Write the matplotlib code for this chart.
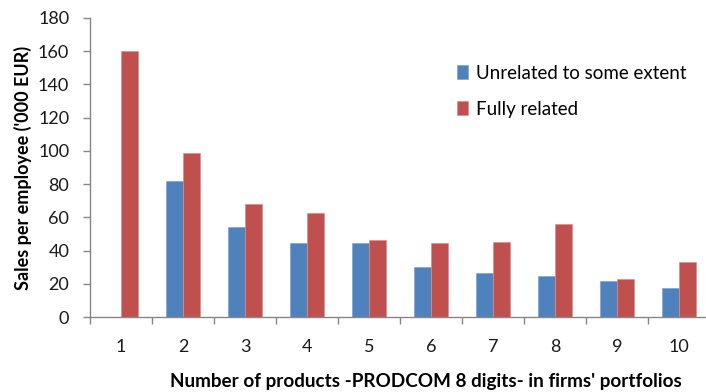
import numpy as np
import matplotlib
matplotlib.use("Agg")
import matplotlib.pyplot as plt
from matplotlib.ticker import FixedLocator, NullFormatter, FixedFormatter

plt.rcParams['font.family'] = ['Lato', 'DejaVu Sans']

categories = ["1", "2", "3", "4", "5", "6", "7", "8", "9", "10"]
unrelated = [0, 82, 54, 44.4, 44.4, 30.3, 26.5, 24.7, 21.9, 17.3]
fully_related = [160, 99, 68, 62.4, 46.2, 44.4, 45.3, 55.8, 22.7, 33.1]

W, H = 706, 392
fig = plt.figure(figsize=(W / 100, H / 100), dpi=100)
ax = fig.add_axes([90 / W, 75 / H, 620 / W, 299 / H])

x = np.arange(len(categories))
bw = 0.28
ax.bar(x - bw / 2, unrelated, bw, color="#4F81BD", edgecolor="#7FA3D0",
       linewidth=0.5, label="Unrelated to some extent", zorder=2)
ax.bar(x + bw / 2, fully_related, bw, color="#C0504D", edgecolor="#D8908E",
       linewidth=0.5, label="Fully related", zorder=2)

ax.set_xlim(-0.5, len(categories) - 0.5)
ax.set_ylim(0, 180)
ax.set_yticks(np.arange(0, 181, 20))

# category boundaries carry the tick marks, centers carry the labels
ax.xaxis.set_major_locator(FixedLocator(np.arange(-0.5, len(categories), 1.0)))
ax.xaxis.set_major_formatter(NullFormatter())
ax.xaxis.set_minor_locator(FixedLocator(x))
ax.xaxis.set_minor_formatter(FixedFormatter(categories))
ax.tick_params(axis="x", which="major", length=5, width=1, color="#868686",
               direction="out")
ax.tick_params(axis="x", which="minor", length=0, pad=16, labelsize=13,
               labelcolor="#1a1a1a")
ax.tick_params(axis="y", length=5, width=1, color="#868686", direction="out",
               pad=10, labelsize=13, labelcolor="#1a1a1a")

for s in ["top", "right"]:
    ax.spines[s].set_visible(False)
for s in ["left", "bottom"]:
    ax.spines[s].set_color("#868686")
    ax.spines[s].set_linewidth(1)

ax.set_ylabel("Sales per employee ('000 EUR)", fontsize=13, fontweight="bold",
              labelpad=4)
fig.text(426 / W, 1 - 381 / H,
         "Number of products -PRODCOM 8 digits- in firms' portfolios",
         ha="center", va="center", fontsize=13.6, fontweight="bold")

ax.legend(loc="upper left", bbox_to_anchor=(0.565, 0.9), frameon=False,
          fontsize=13.5, handlelength=0.6, handleheight=0.75,
          handletextpad=0.4, labelspacing=1.0)

fig.savefig("out.png", dpi=100)
